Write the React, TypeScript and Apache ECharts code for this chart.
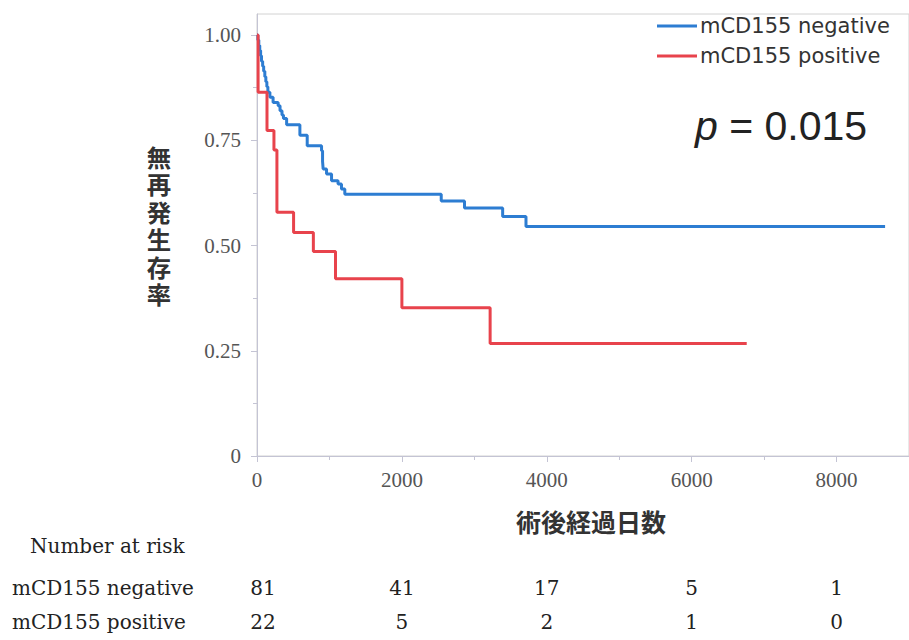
import React, { useEffect, useRef } from 'react';
import * as echarts from 'echarts';

// Kaplan–Meier relapse-free survival, days after surgery
const seriesNames = ['mCD155 negative', 'mCD155 positive'];

const negativeDays = [0, 12, 25, 38, 50, 62, 78, 92, 108, 122, 136, 150, 178, 222, 292, 318, 345, 365, 409, 592, 693, 891, 905, 913, 960, 1029, 1119, 1166, 1212, 2543, 2864, 3391, 3713, 8670];
const negativeSurvival = [1.0, 0.988, 0.975, 0.963, 0.951, 0.938, 0.926, 0.914, 0.901, 0.889, 0.877, 0.864, 0.852, 0.84, 0.832, 0.82, 0.81, 0.802, 0.787, 0.762, 0.737, 0.725, 0.7, 0.682, 0.67, 0.654, 0.646, 0.634, 0.622, 0.606, 0.589, 0.569, 0.545, 0.545];

const positiveDays = [0, 15, 138, 234, 275, 505, 778, 1084, 2000, 3218, 6760];
const positiveSurvival = [1.0, 0.864, 0.773, 0.727, 0.579, 0.531, 0.486, 0.421, 0.352, 0.267, 0.267];

// axis ticks
const xMajorTicks = [0, 2000, 4000, 6000, 8000];
const xMinorTicks = [1000, 3000, 5000, 7000];
const yMajorTicks = [0, 0.25, 0.5, 0.75, 1.0];
const yMinorTicks = [0.125, 0.375, 0.625, 0.875];

// number at risk table
const riskLabel = 'Number at risk';
const riskTimes = [0, 2000, 4000, 6000, 8000];
const riskNegative = [81, 41, 17, 5, 1];
const riskPositive = [22, 5, 2, 1, 0];

const pValueText = '0.015';
const xAxisTitle = '術後経過日数';
const yAxisTitle = '無再発生存率';

const BLUE = '#2d7dd2';
const RED = '#e8434c';
const AXIS_GRAY = '#c4c4d4';
const SERIF = '"Liberation Serif", "DejaVu Serif", serif';
const TABLE_SERIF = '"DejaVu Serif", serif';
const CJK = '"Noto Sans CJK JP", sans-serif';

export default function App() {
  const ref = useRef<HTMLDivElement>(null);

  useEffect(() => {
    const chart = echarts.init(ref.current!, null, { renderer: 'svg' });

    const tickLabelStyle = {
      fontFamily: SERIF,
      fontSize: 21,
      color: '#555',
    };

    chart.setOption({
      animation: false,
      backgroundColor: '#fff',
      grid: {
        left: 257,
        right: -2,
        top: 14,
        bottom: 184,
        show: true,
        borderColor: '#d2d2d2',
        borderWidth: 1,
      },
      legend: {
        orient: 'vertical',
        left: 652,
        top: 10,
        icon: 'rect',
        itemWidth: 40,
        itemHeight: 3,
        itemGap: 8,
        data: seriesNames,
        textStyle: {
          fontFamily: '"DejaVu Sans", sans-serif',
          fontSize: 21,
          lineHeight: 22,
          color: '#333',
          padding: [0, 0, 0, -2],
        },
      },
      xAxis: [
        {
          type: 'value',
          min: 0,
          max: 9000,
          interval: 2000,
          splitLine: { show: false },
          axisLine: { show: true, lineStyle: { color: AXIS_GRAY, width: 1 } },
          axisTick: { show: true, customValues: xMajorTicks, length: 6, lineStyle: { color: AXIS_GRAY } },
          axisLabel: {
            ...tickLabelStyle,
            margin: 13,
            customValues: xMajorTicks,
            formatter: (v: number) => String(v),
          },
        },
        {
          type: 'value',
          position: 'bottom',
          min: 0,
          max: 9000,
          splitLine: { show: false },
          axisLine: { show: false },
          axisTick: { show: true, customValues: xMinorTicks, length: 4, lineStyle: { color: AXIS_GRAY } },
          axisLabel: { show: false },
        },
      ],
      yAxis: [
        {
          type: 'value',
          min: 0,
          max: 1.05,
          interval: 0.25,
          splitLine: { show: false },
          axisLine: { show: true, lineStyle: { color: AXIS_GRAY, width: 1 } },
          axisTick: { show: true, customValues: yMajorTicks, length: 6, lineStyle: { color: AXIS_GRAY } },
          axisLabel: {
            ...tickLabelStyle,
            margin: 16,
            customValues: yMajorTicks,
            formatter: (v: number) => (v === 0 ? '0' : v.toFixed(2)),
          },
        },
        {
          type: 'value',
          position: 'left',
          min: 0,
          max: 1.05,
          splitLine: { show: false },
          axisLine: { show: false },
          axisTick: { show: true, customValues: yMinorTicks, length: 4, lineStyle: { color: AXIS_GRAY } },
          axisLabel: { show: false },
        },
      ],
      series: [
        {
          name: seriesNames[0],
          type: 'line',
          step: 'end',
          showSymbol: false,
          symbol: 'none',
          xAxisIndex: 0,
          yAxisIndex: 0,
          data: negativeDays.map((d, i) => [d, negativeSurvival[i]]),
          lineStyle: { color: BLUE, width: 3 },
          itemStyle: { color: BLUE },
        },
        {
          name: seriesNames[1],
          type: 'line',
          step: 'end',
          showSymbol: false,
          symbol: 'none',
          xAxisIndex: 0,
          yAxisIndex: 0,
          data: positiveDays.map((d, i) => [d, positiveSurvival[i]]),
          lineStyle: { color: RED, width: 3 },
          itemStyle: { color: RED },
        },
      ],
    });

    const px = (t: number) => chart.convertToPixel({ xAxisIndex: 0 }, t) as number;

    const tableText = (text: string, x: number, y: number, align: string) => ({
      type: 'text',
      x,
      y,
      style: {
        text,
        fontFamily: TABLE_SERIF,
        fontSize: 20,
        fill: '#222',
        align,
        verticalAlign: 'middle',
      },
    });

    const graphics: any[] = [
      {
        type: 'text',
        x: 695,
        y: 126,
        style: {
          text: '{i|p} = ' + pValueText,
          fontFamily: '"Liberation Sans", Arial, sans-serif',
          fontSize: 41,
          fill: '#222',
          verticalAlign: 'middle',
          rich: {
            i: {
              fontFamily: '"Liberation Sans", Arial, sans-serif',
              fontSize: 41,
              fontStyle: 'italic',
              fill: '#222',
            },
          },
        },
      },
      {
        type: 'text',
        x: 591,
        y: 521,
        style: {
          text: xAxisTitle,
          fontFamily: CJK,
          fontSize: 25,
          fontWeight: 'bold',
          fill: '#333',
          align: 'center',
          verticalAlign: 'middle',
        },
      },
      tableText(riskLabel, 30, 546, 'left'),
      tableText(seriesNames[0], 12, 588, 'left'),
      tableText(seriesNames[1], 12, 622, 'left'),
    ];

    // vertical y-axis title, one character per row, tightly stacked
    const chars = yAxisTitle.split('');
    const step = 27.4;
    const titleScale = 1.32;
    chars.forEach((ch, i) => {
      graphics.push({
        type: 'text',
        x: 159,
        y: 225 + (i - (chars.length - 1) / 2) * step,
        scaleX: titleScale,
        scaleY: titleScale,
        style: {
          text: ch,
          fontFamily: CJK,
          fontSize: 18.5,
          lineHeight: 19,
          fontWeight: 'bold',
          fill: '#333',
          align: 'center',
          verticalAlign: 'middle',
        },
      });
    });

    riskTimes.forEach((t, i) => {
      const x = px(t) + (i === 0 ? 6 : 0);
      graphics.push(tableText(String(riskNegative[i]), x, 588, 'center'));
      graphics.push(tableText(String(riskPositive[i]), x, 622, 'center'));
    });

    chart.setOption({ graphic: graphics });

    return () => chart.dispose();
  }, []);

  return (
    <div
      ref={ref}
      style={{ position: 'fixed', left: 0, top: 0, width: 909, height: 640 }}
    />
  );
}
